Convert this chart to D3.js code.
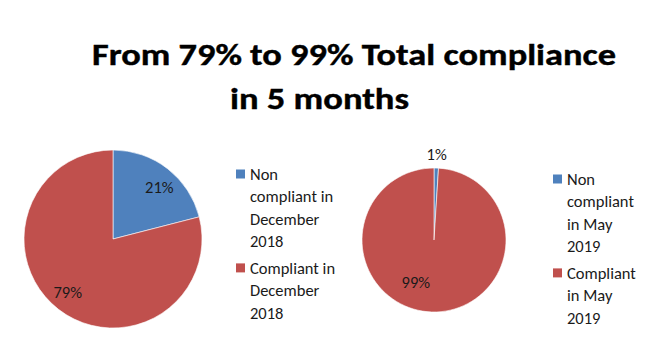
<!DOCTYPE html>
<html><head><meta charset="utf-8">
<script src="https://cdn.jsdelivr.net/npm/d3@7"></script>
<style>body{margin:0;background:#fff}svg{display:block}</style>
</head><body>
<svg id="c" width="654" height="348"></svg>
<script>
const titleLines = ["From 79% to 99% Total compliance", "in 5 months"];
const categoriesDec = ["Non compliant in December 2018", "Compliant in December 2018"];
const valuesDec = [21, 79];
const categoriesMay = ["Non compliant in May 2019", "Compliant in May 2019"];
const valuesMay = [1, 99];
const legendLinesDec = [["Non", "compliant in", "December", "2018"], ["Compliant in", "December", "2018"]];
const legendLinesMay = [["Non", "compliant", "in May", "2019"], ["Compliant", "in May", "2019"]];
const colors = ["#4F81BD", "#C0504D"];

const FONT = "Carlito, Calibri, Lato, 'Open Sans', sans-serif";
const svg = d3.select("#c");
svg.append("rect").attr("width",654).attr("height",348).attr("fill","#fff");

// title
const tl = [{x:92,y:65,w:524},{x:230,y:109,w:179}];
titleLines.forEach((t,i)=>{
  svg.append("text").attr("x",tl[i].x).attr("y",tl[i].y)
    .attr("font-family",FONT).attr("font-weight","bold").attr("font-size",31)
    .attr("textLength",tl[i].w).attr("lengthAdjust","spacingAndGlyphs")
    .attr("fill","#000").attr("stroke","#000").attr("stroke-width",0.4).text(t);
});

const color = d3.scaleOrdinal().range(colors);

function drawPie(cx, cy, r, cats, vals, labelFn){
  color.domain(cats);
  const pie = d3.pie().sort(null).value(d=>d.v);
  const data = pie(cats.map((c,i)=>({c, v:vals[i]})));
  const arc = d3.arc().innerRadius(0).outerRadius(r);
  const g = svg.append("g").attr("transform",`translate(${cx},${cy})`);
  g.selectAll("path").data(data).join("path")
    .attr("d",arc).attr("fill",d=>color(d.data.c))
    .attr("stroke","#fff").attr("stroke-width",0.6);
  g.selectAll("text").data(data).join("text")
    .attr("transform",(d,i)=>`translate(${labelFn(d,i,r)})`)
    .attr("text-anchor","middle").attr("dominant-baseline","central")
    .attr("font-family",FONT).attr("font-size",16.5).attr("fill","#1a1a1a")
    .text(d=>d.data.v+"%");
}

function posAt(d, rr, extra){
  const a = (d.startAngle+d.endAngle)/2 + (extra||0);
  return [Math.sin(a)*rr, -Math.cos(a)*rr];
}

drawPie(113, 239, 89, categoriesDec, valuesDec, (d,i,r)=>posAt(d, r*0.78, i===0?0.07:0.05));
drawPie(434, 240, 72, categoriesMay, valuesMay, (d,i,r)=> i===0 ? posAt(d, r+14, 0) : posAt(d, r*0.63, 0.38));

function drawLegend(x, y0, cats, lines, groupGap){
  color.domain(cats);
  let y = y0;
  cats.forEach((c,i)=>{
    svg.append("rect").attr("x",x).attr("y",y-4.5).attr("width",9).attr("height",9).attr("fill",color(c));
    lines[i].forEach((ln,j)=>{
      svg.append("text").attr("x",x+14).attr("y",y + j*22.3)
        .attr("dominant-baseline","central")
        .attr("font-family",FONT).attr("font-size",16.5).attr("fill","#1a1a1a").text(ln);
    });
    y += (lines[i].length-1)*22.3 + groupGap;
  });
}
drawLegend(236, 174, categoriesDec, legendLinesDec, 27);
drawLegend(553, 179, categoriesMay, legendLinesMay, 27);
</script>
</body></html>
